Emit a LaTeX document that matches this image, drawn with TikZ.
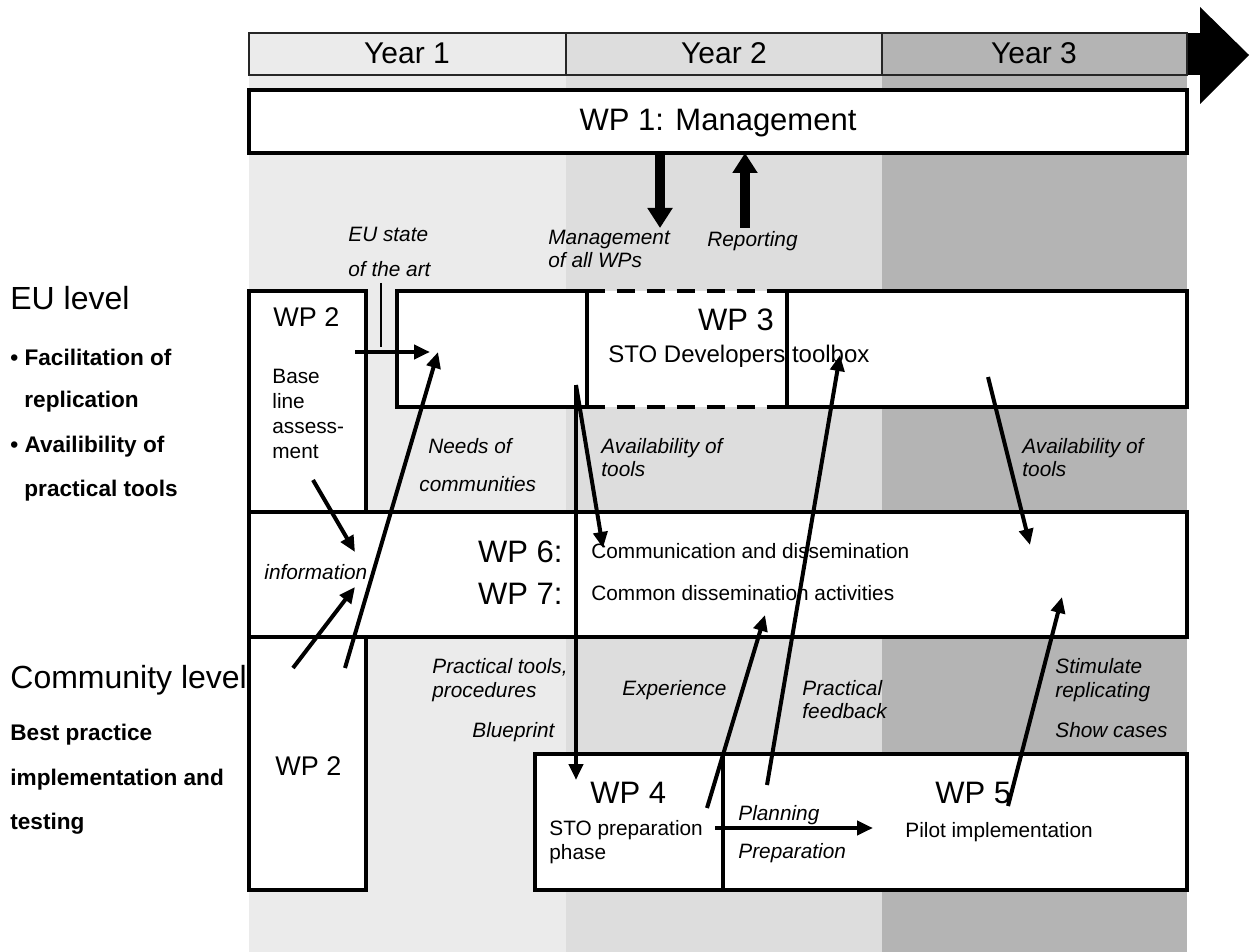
\documentclass[tikz,border=0pt]{standalone}
\usepackage{fontspec}
\setmainfont{Liberation Sans}
\usetikzlibrary{arrows.meta,fit}
\definecolor{yrone}{RGB}{235,235,235}
\definecolor{yrtwo}{RGB}{221,221,221}
\definecolor{yrthree}{RGB}{180,180,180}
\newcommand{\fsz}[1]{\fontsize{#1}{1.2\dimexpr#1pt\relax}\selectfont}
\tikzset{
  wpbox/.style={draw,line width=2pt,fill=white,inner sep=0pt},
  yrcell/.style={draw=black!85,line width=1.2pt,inner sep=0pt},
  lbl/.style={font=\fsz{10.4}\itshape,inner sep=0pt,anchor=base west},
  txt/.style={font=\fsz{10.4},inner sep=0pt,anchor=base west},
  wptxt/.style={font=\fsz{15.5},inner sep=0pt,anchor=base west},
  lvl/.style={font=\fsz{16},inner sep=0pt,anchor=base west},
  aim/.style={font=\bfseries\fsz{11.3},inner sep=0pt,anchor=base west},
  flow/.style={line width=2pt,-{Triangle[length=8pt,width=7pt]}},
  mgmt/.style={line width=5pt,-{Triangle[length=10pt,width=12pt]}}
}
\begin{document}
\begin{tikzpicture}[x=0.5pt,y=-0.5pt]
\useasboundingbox (0,0) rectangle (1253,952);
%columns
\fill[yrone] (249,75) rectangle (566,952);
\fill[yrtwo] (566,75) rectangle (882,952);
\fill[yrthree] (882,75) rectangle (1187,952);
%time axis
\fill (1185,33) rectangle (1200,75);
\fill (1200,7) -- (1249,55) -- (1200,104) -- cycle;
\node[yrcell,fill=yrone,fit={(249,33) (566,75)}] (y1) {};
\node[yrcell,fill=yrtwo,fit={(566,33) (882,75)}] (y2) {};
\node[yrcell,fill=yrthree,fit={(882,33) (1187,75)}] (y3) {};
\node[font=\fsz{15},anchor=base] (y1t) at (407,64) {Year 1};
\node[font=\fsz{15},anchor=base] (y2t) at (724,64) {Year 2};
\node[font=\fsz{15},anchor=base] (y3t) at (1034,64) {Year 3};
%WP 1
\node[wpbox,fit={(249,90) (1187,153)}] (wp1) {};
\node[font=\fsz{15.5},anchor=base] (wp1t) at (718,131) {WP 1: Management};
\coordinate (mg-s) at (660,153);
\coordinate (mg-e) at (660,228);
\coordinate (rp-s) at (745,228);
\coordinate (rp-e) at (745,153);
\draw[mgmt] (mg-s) -- (mg-e);
\draw[mgmt] (rp-s) -- (rp-e);
\node[lbl] (mgl1) at (548,245) {Management};
\node[lbl] (mgl2) at (548,268) {of all WPs};
\node[lbl] (rpl) at (707,247) {Reporting};
%levels
\node[lvl] (eu) at (10,309) {EU level};
\node[aim] (eu1) at (10,365) {\textbullet\ Facilitation of};
\node[aim] (eu2) at (24,407) {replication};
\node[aim] (eu3) at (10,452) {\textbullet\ Availibility of};
\node[aim] (eu4) at (24,496) {practical tools};
\node[lvl] (cl) at (10,688) {Community level};
\node[aim] (cl1) at (10,740) {Best practice};
\node[aim] (cl2) at (10,785) {implementation and};
\node[aim] (cl3) at (10,829) {testing};
%WP 2 and WP 3
\node[wpbox,fit={(249,291) (366,512)}] (wp2a) {};
\node[wptxt,font=\fsz{13.5}] (wp2at) at (273,327) {WP 2};
\node[txt,anchor=north west,align=left,font=\fontsize{10.4}{12.5}\selectfont] (base) at (272,369) {Base\\line\\assess-\\ment};
\node[fill=white,inner sep=0pt,fit={(587,291) (787,407)}] (wp3b) {};
\draw[line width=2pt,dash pattern=on 9pt off 6pt] (wp3b.north west) -- (wp3b.north east);
\draw[line width=2pt,dash pattern=on 9pt off 6pt] (wp3b.south west) -- (wp3b.south east);
\node[wpbox,fit={(397,291) (587,407)}] (wp3a) {};
\node[wpbox,fit={(787,291) (1187,407)}] (wp3c) {};
\node[wptxt,anchor=base] (wp3t) at (736,330) {WP 3};
\node[txt,font=\fsz{12}] (wp3n) at (608,362) {STO Developers toolbox};
\node[lbl] (eul1) at (348,242) {EU state};
\node[lbl] (eul2) at (348,277) {of the art};
\coordinate (eu-a) at (381,283);
\coordinate (eu-b) at (381,347);
\draw[line width=0.7pt] (eu-a) -- (eu-b);
%WP 6 and WP 7
\node[wpbox,fit={(249,512) (1187,637)}] (wp67) {};
\node[wptxt,anchor=base east] (wp6) at (563,562) {WP 6:};
\node[wptxt,anchor=base east] (wp7) at (563,604) {WP 7:};
\node[txt] (wp6n) at (591,558) {Communication and dissemination};
\node[txt] (wp7n) at (591,600) {Common dissemination activities};
\node[lbl] (info) at (264,579) {information};
%WP 2, WP 4, WP 5
\node[wpbox,fit={(249,637) (366,890)}] (wp2b) {};
\node[wptxt,font=\fsz{13.5}] (wp2bt) at (275,775) {WP 2};
\node[wpbox,fit={(535,754) (723,890)}] (wp4) {};
\node[wpbox,fit={(723,754) (1187,890)}] (wp5) {};
\node[wptxt] (wp4t) at (590,803) {WP 4};
\node[wptxt] (wp5t) at (935,803) {WP 5};
\node[txt] (wp4n1) at (549,835) {STO preparation};
\node[txt] (wp4n2) at (549,859) {phase};
\node[txt] (wp5n) at (905,837) {Pilot implementation};
%flows
\coordinate (a1) at (355,352);  \coordinate (b1) at (430,352);
\coordinate (a2) at (313,480);  \coordinate (b2) at (355,552);
\coordinate (a3) at (293,668);  \coordinate (b3) at (355,587);
\coordinate (a4) at (345,668);  \coordinate (b4) at (438,352);
\coordinate (a5) at (576,385);  \coordinate (b5) at (603,548);
\coordinate (b6) at (576,780);
\coordinate (a7) at (988,377);  \coordinate (b7) at (1030,545);
\coordinate (a8) at (707,808);  \coordinate (b8) at (765,615);
\coordinate (a9) at (767,785);  \coordinate (b9) at (840,355);
\coordinate (a10) at (1008,806); \coordinate (b10) at (1062,597);
\coordinate (a11) at (715,828); \coordinate (b11) at (873,828);
\draw[flow] (a1) -- (b1);
\draw[flow] (a2) -- (b2);
\draw[flow] (a3) -- (b3);
\draw[flow] (a4) -- (b4);
\draw[flow] (a5) -- (b5);
\draw[flow] (a5) -- (b6);
\draw[flow] (a7) -- (b7);
\draw[flow] (a8) -- (b8);
\draw[flow] (a9) -- (b9);
\draw[flow] (a10) -- (b10);
\draw[flow] (a11) -- (b11);
%flow labels
\node[lbl] (nd1) at (428,453) {Needs of};
\node[lbl] (nd2) at (419,491) {communities};
\node[lbl] (av1) at (601,453) {Availability of};
\node[lbl] (av2) at (601,476) {tools};
\node[lbl] (av3) at (1022,453) {Availability of};
\node[lbl] (av4) at (1022,476) {tools};
\node[lbl] (pt1) at (432,673) {Practical tools,};
\node[lbl] (pt2) at (432,697) {procedures};
\node[lbl] (bp) at (472,737) {Blueprint};
\node[lbl] (ex) at (622,695) {Experience};
\node[lbl] (pf1) at (802,695) {Practical};
\node[lbl] (pf2) at (802,718) {feedback};
\node[lbl] (st1) at (1055,673) {Stimulate};
\node[lbl] (st2) at (1055,697) {replicating};
\node[lbl] (sc) at (1055,737) {Show cases};
\node[lbl] (pl) at (738,820) {Planning};
\node[lbl] (pr) at (738,858) {Preparation};
\end{tikzpicture}
\end{document}
